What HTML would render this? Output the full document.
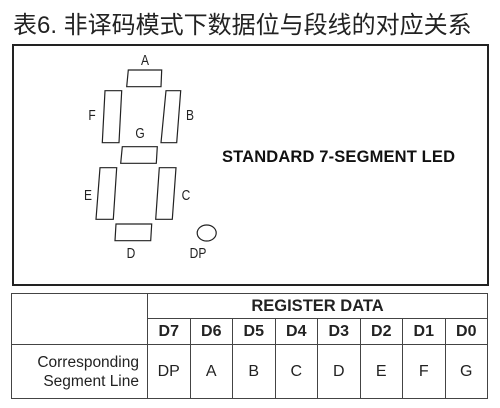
<!DOCTYPE html>
<html><head><meta charset="utf-8"><style>
body{margin:0;width:500px;height:408px;background:#fff;overflow:hidden;position:relative;font-family:"Liberation Sans","Noto Sans CJK SC",sans-serif}
.t{position:absolute;left:13px;top:5px;font-size:24px;color:#222;white-space:nowrap}
table{position:absolute;left:11px;top:293px;border-collapse:collapse;width:477px;table-layout:fixed;font-family:"Liberation Sans",sans-serif}
td{border:1px solid #444;text-align:center;padding:0;color:#222}
</style></head><body>
<div class="t">表6. 非译码模式下数据位与段线的对应关系</div>
<svg width="500" height="408" style="position:absolute;left:0;top:0">
<rect x="13" y="45" width="475" height="240" fill="none" stroke="#222" stroke-width="2"/>
<g fill="none" stroke="#222" stroke-width="1.2">
<polygon points="128.3,70 161.7,70 161,86.7 126.7,86.7"/>
<polygon points="105,90.7 121.7,90.7 119,142.7 102.3,142.7"/>
<polygon points="166,90.7 180.7,90.7 176.7,142.7 161,142.7"/>
<polygon points="122.3,146.7 157.3,146.7 156.3,163.3 120.7,163.3"/>
<polygon points="100,167.7 116.7,167.7 113.3,219.3 96,219.3"/>
<polygon points="159.3,167.7 176,167.7 172.3,219.3 155.7,219.3"/>
<polygon points="116,224 151.7,224 150.7,240.7 115,240.7"/>
<ellipse cx="206.7" cy="233" rx="9.5" ry="8"/>
</g>
<g font-family="Liberation Sans" font-size="15" fill="#222" text-anchor="middle">
<text transform="translate(145,65) scale(0.8,1)">A</text>
<text transform="translate(92,120) scale(0.8,1)">F</text>
<text transform="translate(190,120) scale(0.8,1)">B</text>
<text transform="translate(140,138) scale(0.8,1)">G</text>
<text transform="translate(88,200) scale(0.8,1)">E</text>
<text transform="translate(186,200) scale(0.8,1)">C</text>
<text transform="translate(131,258) scale(0.8,1)">D</text>
<text transform="translate(198,258) scale(0.8,1)">DP</text>
</g>
<text x="338.5" y="162" font-family="Liberation Sans" font-weight="bold" font-size="16.5" text-anchor="middle" fill="#111" textLength="233">STANDARD 7-SEGMENT LED</text>
</svg>
<table>
<colgroup><col style="width:136px"><col><col><col><col><col><col><col><col></colgroup>
<tr style="height:25px"><td rowspan="2"></td><td colspan="8" style="font-weight:bold;font-size:16.5px">REGISTER DATA</td></tr>
<tr style="height:26px;font-weight:bold;font-size:16px"><td>D7</td><td>D6</td><td>D5</td><td>D4</td><td>D3</td><td>D2</td><td>D1</td><td>D0</td></tr>
<tr style="height:54px;font-size:16px;color:#333"><td style="text-align:right;padding-right:8px;line-height:19px;font-size:15.5px">Corresponding<br>Segment Line</td><td>DP</td><td>A</td><td>B</td><td>C</td><td>D</td><td>E</td><td>F</td><td>G</td></tr>
</table>
</body></html>
